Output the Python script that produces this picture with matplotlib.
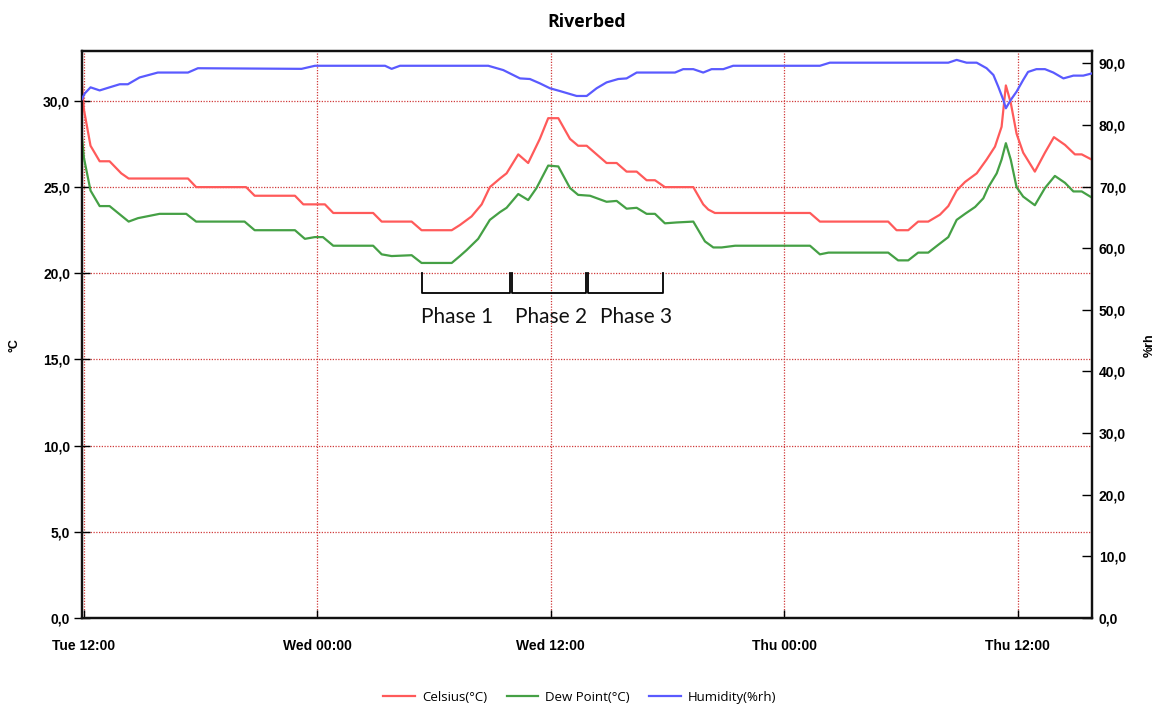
import matplotlib
matplotlib.use("Agg")
import matplotlib.pyplot as plt
from matplotlib.ticker import FuncFormatter

# hours since Tue 12:00
celsius_t = [-0.10, 0.00, 0.34, 0.81, 1.32, 1.92, 2.30, 5.35, 5.77, 8.34, 8.78, 10.85,
             11.28, 12.39, 12.82, 14.87, 15.31, 16.85, 17.36, 18.91, 19.33, 19.93, 20.45,
             20.87, 21.39, 21.73, 22.33, 22.84, 23.44, 23.87, 24.39, 24.99, 25.41, 25.85,
             26.87, 27.39, 27.90, 28.42, 28.93, 29.36, 29.87, 31.33, 31.84, 32.10, 32.44,
             37.33, 37.84, 41.35, 41.78, 42.38, 42.89, 43.41, 44.01, 44.44, 44.87, 45.30,
             45.90, 46.41, 46.84, 47.18, 47.40, 47.65, 47.95, 48.29, 48.89, 49.41, 49.87,
             50.44, 50.95, 51.30, 51.81]
celsius = [31.0, 29.5, 27.4, 26.5, 26.5, 25.8, 25.5, 25.5, 25.0, 25.0, 24.5, 24.5,
           24.0, 24.0, 23.5, 23.5, 23.0, 23.0, 22.5, 22.5, 22.8, 23.3, 24.0,
           25.0, 25.5, 25.8, 26.9, 26.4, 27.8, 29.0, 29.0, 27.8, 27.4, 27.4,
           26.4, 26.4, 25.9, 25.9, 25.4, 25.4, 25.0, 25.0, 24.0, 23.7, 23.5,
           23.5, 23.0, 23.0, 22.5, 22.5, 23.0, 23.0, 23.4, 23.9, 24.8, 25.3,
           25.8, 26.6, 27.35, 28.5, 30.9, 29.9, 28.1, 27.0, 25.9, 27.0, 27.9,
           27.45, 26.9, 26.9, 26.6]

dew_t = [-0.10, 0.00, 0.34, 0.81, 1.32, 2.30, 2.78, 3.89, 5.26, 5.77, 8.26, 8.78, 10.85,
         11.36, 11.87, 12.29, 12.82, 14.87, 15.31, 15.82, 16.85, 17.36, 18.91, 19.33,
         19.68, 20.27, 20.87, 21.39, 21.73, 22.33, 22.84, 23.27, 23.87, 24.39, 24.99,
         25.41, 26.02, 26.87, 27.39, 27.90, 28.42, 28.93, 29.36, 29.87, 30.47, 31.33,
         31.93, 32.36, 32.79, 33.48, 37.33, 37.84, 38.28, 41.35, 41.86, 42.38, 42.89,
         43.41, 43.92, 44.44, 44.87, 45.30, 45.82, 46.24, 46.50, 46.93, 47.18, 47.40,
         47.65, 47.95, 48.29, 48.89, 49.41, 49.92, 50.44, 50.87, 51.30, 51.81]
dew_point = [27.9, 26.7, 24.8, 23.9, 23.9, 23.0, 23.2, 23.45, 23.45, 23.0, 23.0, 22.5, 22.5,
             22.0, 22.1, 22.1, 21.6, 21.6, 21.1, 21.0, 21.05, 20.6, 20.6, 21.0,
             21.35, 22.0, 23.1, 23.55, 23.8, 24.6, 24.25, 24.95, 26.25, 26.2, 24.95,
             24.55, 24.5, 24.15, 24.2, 23.75, 23.8, 23.45, 23.45, 22.9, 22.95, 23.0,
             21.85, 21.5, 21.5, 21.6, 21.6, 21.1, 21.2, 21.2, 20.75, 20.75, 21.2,
             21.2, 21.65, 22.1, 23.1, 23.45, 23.85, 24.35, 25.0, 25.8, 26.6, 27.55,
             26.6, 25.0, 24.45, 23.95, 24.95, 25.65, 25.25, 24.75, 24.75, 24.4]

humid_t = [-0.10, 0.04, 0.34, 0.81, 1.32, 1.84, 2.26, 2.86, 3.80, 5.35, 5.86, 11.19,
           11.88, 15.48, 15.82, 16.25, 20.79, 21.56, 22.42, 22.93, 23.44, 23.96, 24.47,
           25.33, 25.85, 26.36, 26.87, 27.47, 27.90, 28.42, 30.39, 30.81, 31.33, 31.84,
           32.27, 32.87, 33.38, 37.84, 38.35, 44.44, 44.87, 45.38, 45.90, 46.41, 46.76,
           47.01, 47.27, 47.40, 47.65, 47.95, 48.29, 48.54, 48.97, 49.41, 49.84, 50.36,
           50.87, 51.38, 51.81]
humidity = [84.2, 85.1, 86.1, 85.6, 86.1, 86.6, 86.6, 87.7, 88.5, 88.5, 89.2, 89.1,
            89.6, 89.6, 89.1, 89.6, 89.6, 88.9, 87.55, 87.45, 86.75, 85.95, 85.5,
            84.7, 84.7, 85.95, 86.9, 87.45, 87.55, 88.5, 88.5, 89.05, 89.05, 88.5,
            89.05, 89.05, 89.6, 89.6, 90.1, 90.1, 90.55, 90.1, 90.1, 89.2, 88.1,
            86.2, 84.05, 82.7, 84.05, 85.4, 87.3, 88.6, 89.05, 89.05, 88.5, 87.55,
            88.0, 88.0, 88.35]

time_ticks = [0, 12, 24, 36, 48]
time_labels = ["Tue 12:00", "Wed 00:00", "Wed 12:00", "Thu 00:00", "Thu 12:00"]
temp_ticks = [0, 5, 10, 15, 20, 25, 30]
humid_ticks = [0, 10, 20, 30, 40, 50, 60, 70, 80, 90]

phase_names = ["Phase 1", "Phase 2", "Phase 3"]
phase_bounds = [(17.36, 21.90), (21.99, 25.81), (25.90, 29.78)]
phase_label_x = [19.2, 24.0, 28.4]

RED = "#ff5a5a"
GREEN = "#45a045"
BLUE = "#5a5aff"
GRID = "#d03a3a"


def comma_fmt(v, _pos):
    return f"{v:.1f}".replace(".", ",")


fig = plt.figure(figsize=(11.61, 7.07), dpi=100)
ax = fig.add_axes([0.0706, 0.1259, 0.8700, 0.8020])
ax2 = ax.twinx()

ax.plot(celsius_t, celsius, color=RED, lw=1.6, label="Celsius(°C)", zorder=3)
ax.plot(dew_t, dew_point, color=GREEN, lw=1.6, label="Dew Point(°C)", zorder=3)
ax2.plot(humid_t, humidity, color=BLUE, lw=1.6, label="Humidity(%rh)", zorder=3)

ax.set_xlim(-0.10, 51.83)
ax.set_ylim(0, 32.9)
ax2.set_ylim(0, 92.0)

# dotted red grid: one line per temperature tick and per time tick
for v in temp_ticks[1:]:
    ax.axhline(v, color=GRID, lw=0.9, ls=(0, (1, 1.2)), zorder=1)
for t in time_ticks:
    ax.axvline(t, color=GRID, lw=0.9, ls=(0, (1, 1.2)), zorder=1)

ax.set_xticks(time_ticks)
ax.set_xticklabels(time_labels)
ax.set_yticks(temp_ticks)
ax2.set_yticks(humid_ticks)
ax.yaxis.set_major_formatter(FuncFormatter(comma_fmt))
ax2.yaxis.set_major_formatter(FuncFormatter(comma_fmt))

tick_font = {"family": "Liberation Sans", "weight": "bold", "size": 10}
for lab in ax.get_xticklabels() + ax.get_yticklabels() + ax2.get_yticklabels():
    lab.set_fontproperties(matplotlib.font_manager.FontProperties(**tick_font))

ax.tick_params(axis="x", direction="in", length=6, width=1.0, pad=15)
ax.tick_params(axis="y", direction="inout", length=11, width=1.0, pad=3)
ax2.tick_params(axis="y", direction="in", length=7.5, width=1.0, pad=5)
for a in (ax, ax2):
    for spine in a.spines.values():
        spine.set_linewidth(1.6)
        spine.set_color("#111111")

# phase brackets under the Wednesday warm-up
for name, (x0, x1), lx in zip(phase_names, phase_bounds, phase_label_x):
    ax.plot([x0, x0, x1, x1], [20.0, 18.85, 18.85, 20.0], color="black", lw=1.3, zorder=4)
    ax.text(lx, 17.45, name, ha="center", va="center", fontsize=15,
            family="Lato", color="#111111")

fig.text(0.5056, 0.9689, "Riverbed", ha="center", va="center",
         fontsize=12.8, fontweight="bold", family="Open Sans")
fig.text(14 / 1161, 1 - 345 / 707, "°C", rotation=90, ha="center", va="center",
         fontsize=9, fontweight="bold", family="Liberation Sans")
fig.text(1150 / 1161, 1 - 345 / 707, "%rh", rotation=90, ha="center", va="center",
         fontsize=9, fontweight="bold", family="Liberation Sans")

handles = ax.get_lines()[:2] + ax2.get_lines()[:1]
fig.legend(handles, [h.get_label() for h in handles], loc="center",
           bbox_to_anchor=(0.4996, 0.0141), ncol=3, frameon=False,
           prop={"family": "Open Sans", "size": 9.5}, handlelength=2.4,
           handletextpad=0.55, columnspacing=1.45)

fig.savefig("out.png", dpi=100)
